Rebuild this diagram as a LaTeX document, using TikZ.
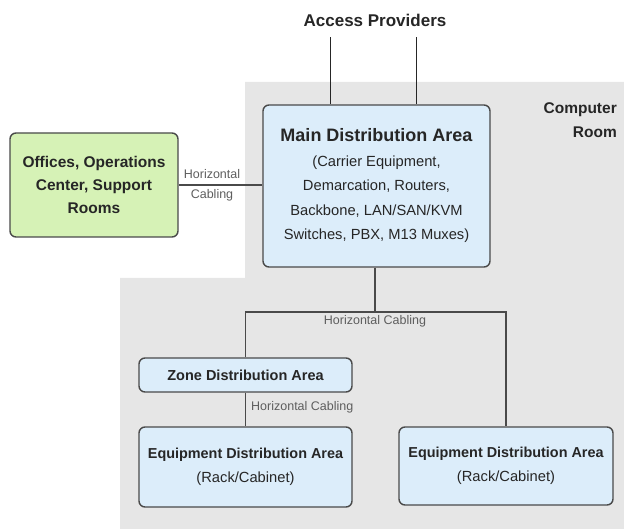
\documentclass[tikz,border=0pt]{standalone}
\usepackage{fontspec}
\setmainfont{Liberation Sans}
\usepackage{xcolor}
\usepackage{tikz}
\usetikzlibrary{positioning, calc}

\definecolor{roomgray}{HTML}{E6E6E6}
\definecolor{areablue}{HTML}{DCEDFA}
\definecolor{officegreen}{HTML}{D6F2B6}
\definecolor{edgegray}{HTML}{4A4A4A}
\definecolor{inkgray}{HTML}{262626}
\definecolor{cablegray}{HTML}{5E5E5E}

\begin{document}
\begin{tikzpicture}[
    x=1pt, y=-1pt,
    area/.style={
      rectangle, rounded corners=6pt,
      draw=edgegray, line width=1.4pt,
      fill=areablue, align=center,
      text=inkgray, inner sep=0pt,
      font=\fontsize{14.7}{24.5}\selectfont
    },
    office/.style={
      area, fill=officegreen,
      font=\fontsize{15.5}{23}\selectfont\bfseries
    },
    cablelabel/.style={
      text=cablegray, inner sep=1pt,
      font=\fontsize{12.5}{20}\selectfont, align=center
    },
    cable/.style={draw=edgegray, line width=1.5pt},
    feed/.style={draw=black!85, line width=1.8pt}
  ]

    \useasboundingbox (0,0) rectangle (624,529);

    % computer room floor
    \fill[roomgray] (245,82) -- (624,82) -- (624,529) -- (120,529)
      -- (120,278) -- (245,278) -- cycle;

    \node[anchor=north east, align=right, inner sep=0pt, text=inkgray,
      font=\fontsize{15.5}{24}\selectfont\bfseries] (room) at (617,102)
      {Computer\\Room};

    \node[text=inkgray, inner sep=0pt,
      font=\fontsize{17}{20}\selectfont\bfseries] (prov) at (375,20)
      {Access Providers};

    \node[area, minimum width=227pt, minimum height=162pt] (mda) at (376.5,186)
      {{\fontsize{18}{24}\selectfont\bfseries Main Distribution Area}\\
       (Carrier Equipment,\\ Demarcation, Routers,\\
       Backbone, LAN/SAN/KVM\\ Switches, PBX, M13 Muxes)};

    \node[office, minimum width=168pt, minimum height=104pt] (ofc) at (94,185)
      {Offices, Operations\\Center, Support\\Rooms};

    \node[area, minimum width=213pt, minimum height=34pt,
      font=\fontsize{14.5}{20}\selectfont\bfseries] (zda) at (245.5,375)
      {Zone Distribution Area};

    \node[area, minimum width=213pt, minimum height=80pt] (edaA) at (245.5,467)
      {{\fontsize{14.4}{25}\selectfont\bfseries Equipment Distribution Area}\\
       (Rack/Cabinet)};
    \node[area, minimum width=214pt, minimum height=78pt] (edaB) at (506,466)
      {{\fontsize{14.4}{25}\selectfont\bfseries Equipment Distribution Area}\\
       (Rack/Cabinet)};

    \coordinate (bus) at (375,312);

    % cabling
    \draw[feed] ([xshift=-46pt]mda.north) -- ([xshift=-46pt]mda.north |- 0,37);
    \draw[feed] ([xshift=40pt]mda.north) -- ([xshift=40pt]mda.north |- 0,37);
    \draw[cable] (ofc.east) -- (ofc.east -| mda.west);
    \draw[cable] (mda.south -| bus) -- (bus);
    \draw[cable] (zda.north) -- (zda.north |- bus) -- (edaB.north |- bus)
      -- (edaB.north);
    \draw[cable] (zda.south) -- (edaA.north);

    \node[cablelabel] (hc1) at (212,185) {Horizontal\\Cabling};
    \node[cablelabel, below=2pt of bus] (hc2) {Horizontal Cabling};
    \node[cablelabel, anchor=west] (hc3) at (250,407) {Horizontal Cabling};
  \end{tikzpicture}
\end{document}
